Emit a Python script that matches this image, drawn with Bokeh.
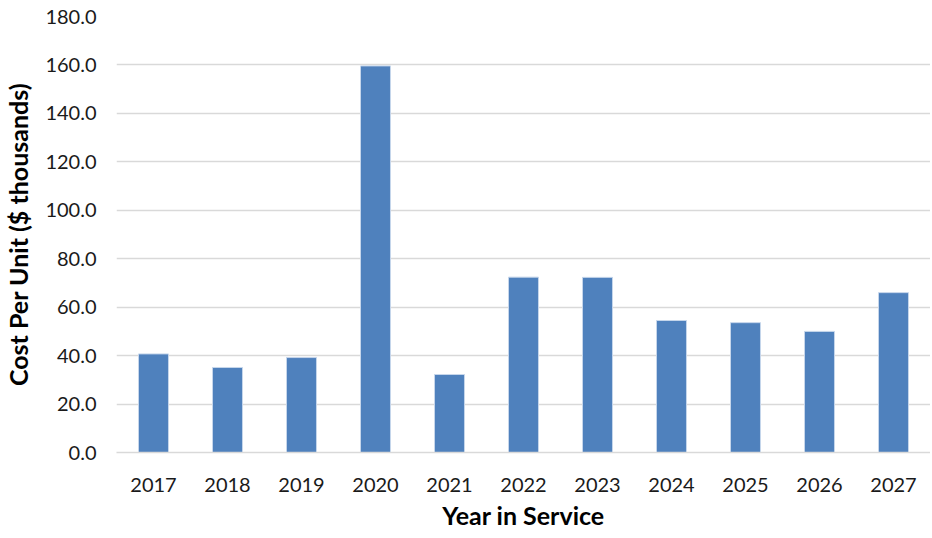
from bokeh.plotting import figure
from bokeh.models import Range1d, PrintfTickFormatter, FixedTicker
from bokeh.embed import file_html
from bokeh.resources import INLINE

years = ["2017", "2018", "2019", "2020", "2021", "2022", "2023", "2024", "2025", "2026", "2027"]
costs = [40.7, 35.1, 39.2, 159.6, 32.2, 72.4, 72.3, 54.5, 53.6, 50.0, 66.0]
y_ticks = [0, 20, 40, 60, 80, 100, 120, 140, 160, 180]

FONT = "Lato"

p = figure(x_range=years, y_range=Range1d(0, 180), width=930, height=536,
           output_backend="svg", toolbar_location=None,
           min_border_left=116, min_border_right=0, min_border_top=16, min_border_bottom=84)

p.vbar(x=years, top=costs, width=0.405, fill_color="#4F81BD", line_color="#C6D6EB", line_width=1)

p.outline_line_color = None
p.background_fill_color = "white"
p.xgrid.grid_line_color = None
p.ygrid.grid_line_color = "#D9D9D9"
p.ygrid.grid_line_width = 1.5
p.ygrid.ticker = FixedTicker(ticks=y_ticks)

p.yaxis.ticker = FixedTicker(ticks=y_ticks)
p.yaxis.formatter = PrintfTickFormatter(format="%.1f")
p.yaxis.axis_line_color = None
p.yaxis.major_tick_line_color = None
p.yaxis.minor_tick_line_color = None
p.yaxis.major_tick_out = 0
p.yaxis.major_label_standoff = 20
p.yaxis.major_label_text_font = FONT
p.yaxis.major_label_text_font_size = "20px"
p.yaxis.major_label_text_color = "#1a1a1a"
p.yaxis.axis_label = "Cost Per Unit ($ thousands)"
p.yaxis.axis_label_text_font = FONT
p.yaxis.axis_label_text_font_size = "25px"
p.yaxis.axis_label_text_font_style = "bold"
p.yaxis.axis_label_text_color = "black"
p.yaxis.axis_label_standoff = 9

p.xaxis.axis_line_color = "#D9D9D9"
p.xaxis.axis_line_width = 1.5
p.xaxis.major_tick_line_color = None
p.xaxis.minor_tick_line_color = None
p.xaxis.major_tick_out = 0
p.xaxis.major_label_standoff = 25
p.xaxis.major_label_text_font = FONT
p.xaxis.major_label_text_font_size = "20px"
p.xaxis.major_label_text_color = "#1a1a1a"
p.xaxis.axis_label = "Year in Service"
p.xaxis.axis_label_text_font = FONT
p.xaxis.axis_label_text_font_size = "25px"
p.xaxis.axis_label_text_font_style = "bold"
p.xaxis.axis_label_text_color = "black"
p.xaxis.axis_label_standoff = 5

p.x_range.range_padding = 0
p.x_range.factor_padding = 0

open("out.html", "w").write(file_html(p, INLINE))
